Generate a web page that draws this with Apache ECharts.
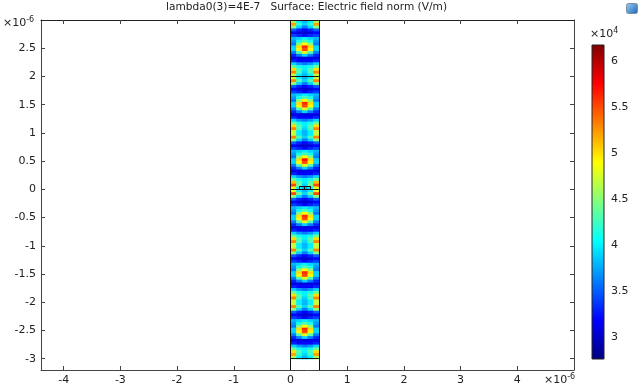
<!DOCTYPE html>
<html><head><meta charset="utf-8">
<script src="https://cdn.jsdelivr.net/npm/echarts@6/dist/echarts.min.js"></script>
<style>html,body{margin:0;padding:0;background:#fff}#c{width:642px;height:391px}</style>
</head><body><div id="c"></div>
<script>
const titleText = 'lambda0(3)=4E-7   Surface: Electric field norm (V/m)';
const xRange = [-4.4, 5.0];
const yRange = [-3.2, 3.0];
const xTicks = [-4, -3, -2, -1, 0, 1, 2, 3, 4];
const yTicks = [-3, -2.5, -2, -1.5, -1, -0.5, 0, 0.5, 1, 1.5, 2, 2.5];
const cbTicks = [3, 3.5, 4, 4.5, 5, 5.5, 6];
const cbRange = [2.76, 6.17];
const jet = ['#00007F','#0000FF','#007FFF','#00FFFF','#7FFF7F','#FFFF00','#FF7F00','#FF0000','#7F0000'];
// field grid: column centres (x, µm) and rows from y=3 downward, 0.05 µm per row
const colX = [0.05, 0.15, 0.25, 0.35, 0.45];
const fieldTop = 3.0, fieldDx = 0.1, fieldDy = 0.05;
// electric field norm, ×10^4 V/m, read row by row from top (y=3) to bottom (y=-3)
const fieldE = [
 [4.6,4.0,3.8,4.0,4.6],[5.2,4.2,3.9,4.2,5.2],[4.5,3.9,3.6,3.9,4.5],[3.5,3.3,3.2,3.3,3.5],[3.2,3.1,3.0,3.1,3.2],
 [3.4,3.3,3.2,3.3,3.4],[3.8,3.9,4.0,3.9,3.8],[3.7,4.1,4.3,4.1,3.7],[3.6,4.5,4.9,4.5,3.6],[3.9,5.0,5.6,5.0,3.9],
 [3.9,4.9,5.5,4.9,3.9],[3.6,4.3,4.8,4.3,3.6],[3.3,3.6,3.9,3.6,3.3],[3.1,3.1,3.1,3.1,3.1],[3.3,3.2,3.2,3.2,3.3],
 [3.9,3.7,3.6,3.7,3.9],[4.4,4.1,4.0,4.1,4.4],[5.0,4.3,4.0,4.3,5.0],[5.3,4.3,3.9,4.3,5.3],[4.7,4.0,3.8,4.0,4.7],
 [4.7,4.0,3.8,4.0,4.7],[5.3,4.3,3.9,4.3,5.3],[4.5,3.9,3.6,3.9,4.5],[3.5,3.3,3.2,3.3,3.5],[3.2,3.1,3.0,3.1,3.2],
 [3.4,3.3,3.2,3.3,3.4],[3.8,3.9,4.0,3.9,3.8],[3.7,4.1,4.3,4.1,3.7],[3.6,4.5,4.9,4.5,3.6],[3.9,5.0,5.6,5.0,3.9],
 [3.9,4.9,5.5,4.9,3.9],[3.6,4.3,4.8,4.3,3.6],[3.3,3.6,3.9,3.6,3.3],[3.1,3.1,3.1,3.1,3.1],[3.3,3.2,3.2,3.2,3.3],
 [3.9,3.7,3.6,3.7,3.9],[4.4,4.1,4.0,4.1,4.4],[5.0,4.3,4.0,4.3,5.0],[5.3,4.3,3.9,4.3,5.3],[4.7,4.0,3.8,4.0,4.7],
 [4.7,4.0,3.8,4.0,4.7],[5.3,4.3,3.9,4.3,5.3],[4.5,3.9,3.6,3.9,4.5],[3.5,3.3,3.2,3.3,3.5],[3.2,3.1,3.0,3.1,3.2],
 [3.4,3.3,3.2,3.3,3.4],[3.8,3.9,4.0,3.9,3.8],[3.7,4.1,4.3,4.1,3.7],[3.6,4.5,4.9,4.5,3.6],[3.9,5.0,5.7,5.0,3.9],
 [3.9,4.9,5.5,4.9,3.9],[3.6,4.3,4.8,4.3,3.6],[3.3,3.6,3.9,3.6,3.3],[3.1,3.1,3.1,3.1,3.1],[3.3,3.2,3.2,3.2,3.3],
 [3.9,3.7,3.6,3.7,3.9],[4.4,4.1,4.0,4.1,4.4],[5.1,4.3,4.0,4.3,5.1],[5.5,4.4,3.9,4.4,5.5],[4.8,4.0,3.8,4.0,4.8],
 [4.8,4.0,3.8,4.0,4.8],[5.5,4.4,3.9,4.4,5.5],[4.5,3.9,3.6,3.9,4.5],[3.5,3.3,3.2,3.3,3.5],[3.2,3.1,3.0,3.1,3.2],
 [3.4,3.3,3.2,3.3,3.4],[3.8,3.9,4.0,3.9,3.8],[3.7,4.1,4.3,4.1,3.7],[3.6,4.5,4.9,4.5,3.6],[3.9,5.0,5.6,5.0,3.9],
 [3.9,4.9,5.5,4.9,3.9],[3.6,4.3,4.8,4.3,3.6],[3.3,3.6,3.9,3.6,3.3],[3.1,3.1,3.1,3.1,3.1],[3.3,3.2,3.2,3.2,3.3],
 [3.9,3.7,3.6,3.7,3.9],[4.4,4.1,4.0,4.1,4.4],[5.0,4.3,4.0,4.3,5.0],[5.3,4.3,3.9,4.3,5.3],[4.7,4.0,3.8,4.0,4.7],
 [4.7,4.0,3.8,4.0,4.7],[5.3,4.3,3.9,4.3,5.3],[4.5,3.9,3.6,3.9,4.5],[3.5,3.3,3.2,3.3,3.5],[3.2,3.1,3.0,3.1,3.2],
 [3.4,3.3,3.2,3.3,3.4],[3.8,3.9,4.0,3.9,3.8],[3.7,4.1,4.3,4.1,3.7],[3.6,4.5,4.9,4.5,3.6],[3.9,5.0,5.6,5.0,3.9],
 [3.9,4.9,5.5,4.9,3.9],[3.6,4.3,4.8,4.3,3.6],[3.3,3.6,3.9,3.6,3.3],[3.1,3.1,3.1,3.1,3.1],[3.3,3.2,3.2,3.2,3.3],
 [3.9,3.7,3.6,3.7,3.9],[4.4,4.1,4.0,4.1,4.4],[5.0,4.3,4.0,4.3,5.0],[5.3,4.3,3.9,4.3,5.3],[4.7,4.0,3.8,4.0,4.7],
 [4.7,4.0,3.8,4.0,4.7],[5.3,4.3,3.9,4.3,5.3],[4.5,3.9,3.6,3.9,4.5],[3.5,3.3,3.2,3.3,3.5],[3.2,3.1,3.0,3.1,3.2],
 [3.4,3.3,3.2,3.3,3.4],[3.8,3.9,4.0,3.9,3.8],[3.7,4.1,4.3,4.1,3.7],[3.6,4.5,4.9,4.5,3.6],[3.9,5.0,5.6,5.0,3.9],
 [3.9,4.9,5.5,4.9,3.9],[3.6,4.3,4.8,4.3,3.6],[3.3,3.6,3.9,3.6,3.3],[3.1,3.1,3.1,3.1,3.1],[3.3,3.2,3.2,3.2,3.3],
 [3.9,3.7,3.6,3.7,3.9],[4.4,4.1,4.0,4.1,4.4],[5.0,4.3,4.0,4.3,5.0],[5.2,4.2,3.9,4.2,5.2],[4.6,4.0,3.8,4.0,4.6]
];
// geometry boundaries (µm)
const boundaries = [
 [[0,-3.2],[0,3]], [[0.5,-3.2],[0.5,3]],
 [[0,3],[0.5,3]], [[0,2],[0.5,2]], [[0,0],[0.5,0]], [[0,-3],[0.5,-3]],
 [[0.15,0],[0.15,0.06]], [[0.15,0.06],[0.35,0.06]], [[0.35,0.06],[0.35,0]], [[0.25,0],[0.25,0.06]]
];

const FONT = 'DejaVu Sans';
const cells = [];
fieldE.forEach((row, i) => {
  const y = fieldTop - fieldDy * (i + 0.5);
  row.forEach((v, j) => cells.push([colX[j], y, v]));
});

const chart = echarts.init(document.getElementById('c'), null, {renderer: 'canvas'});
const axisCol = '#444';
const labelStyle = {color: '#222', fontSize: 11, fontFamily: FONT};
const sup = {fontSize: 8, fontFamily: FONT, color: '#222', verticalAlign: 'top', padding: [0,0,6,0]};

chart.setOption({
  backgroundColor: '#fff',
  animation: false,
  grid: [
    {left: 41, right: 68, top: 20, bottom: 21, show: false},
    {left: 592, width: 12, top: 45, height: 314, show: false}
  ],
  xAxis: [
    {type: 'value', gridIndex: 0, min: xRange[0], max: xRange[1], position: 'bottom',
     axisLine: {onZero: false, lineStyle: {color: axisCol}}, splitLine: {show: false},
     axisTick: {inside: true, length: 4, customValues: xTicks, lineStyle: {color: axisCol}},
     axisLabel: Object.assign({customValues: xTicks, margin: 5, formatter: v => String(v)}, labelStyle)},
    {type: 'value', gridIndex: 0, min: xRange[0], max: xRange[1], position: 'top',
     axisLine: {onZero: false, lineStyle: {color: '#222'}}, splitLine: {show: false},
     axisTick: {inside: true, length: 4, customValues: xTicks, lineStyle: {color: axisCol}},
     axisLabel: {show: false}},
    {type: 'value', gridIndex: 1, min: 0, max: 1, show: false}
  ],
  yAxis: [
    {type: 'value', gridIndex: 0, min: yRange[0], max: yRange[1], position: 'left',
     axisLine: {onZero: false, lineStyle: {color: axisCol}}, splitLine: {show: false},
     axisTick: {inside: true, length: 4, customValues: yTicks, lineStyle: {color: axisCol}},
     axisLabel: Object.assign({customValues: yTicks, margin: 5, formatter: v => String(v)}, labelStyle)},
    {type: 'value', gridIndex: 0, min: yRange[0], max: yRange[1], position: 'right',
     axisLine: {onZero: false, lineStyle: {color: axisCol}}, splitLine: {show: false},
     axisTick: {inside: true, length: 4, customValues: yTicks, lineStyle: {color: axisCol}},
     axisLabel: {show: false}},
    {type: 'value', gridIndex: 1, min: cbRange[0], max: cbRange[1], position: 'right',
     axisLine: {show: false}, splitLine: {show: false}, axisTick: {show: false},
     axisLabel: Object.assign({customValues: cbTicks, margin: 7, formatter: v => String(v)}, labelStyle)}
  ],
  visualMap: {
    type: 'continuous', show: false, seriesIndex: 0, dimension: 2,
    min: cbRange[0], max: cbRange[1], inRange: {color: jet}
  },
  series: [
    {type: 'custom', xAxisIndex: 0, yAxisIndex: 0, data: cells, encode: {x: 0, y: 1},
     renderItem: function (params, api) {
       const x = api.value(0), y = api.value(1);
       const p0 = api.coord([x - fieldDx / 2, y + fieldDy / 2]);
       const p1 = api.coord([x + fieldDx / 2, y - fieldDy / 2]);
       return {type: 'rect', shape: {x: p0[0], y: p0[1], width: p1[0] - p0[0] + 0.6, height: p1[1] - p0[1] + 0.6},
               style: {fill: api.visual('color')}};
     }},
    {type: 'lines', coordinateSystem: 'cartesian2d', xAxisIndex: 0, yAxisIndex: 0, polyline: false,
     silent: true, lineStyle: {color: '#111', width: 1, opacity: 1},
     data: boundaries.map(c => ({coords: c}))},
    {type: 'custom', xAxisIndex: 2, yAxisIndex: 2, data: [[0, cbRange[0], 1, cbRange[1]]], encode: {x: [0, 2], y: [1, 3]},
     renderItem: function (params, api) {
       const a = api.coord([api.value(0), api.value(1)]);
       const b = api.coord([api.value(2), api.value(3)]);
       const stops = jet.map((c, i) => ({offset: i / (jet.length - 1), color: c}));
       return {type: 'rect', shape: {x: a[0], y: b[1], width: b[0] - a[0], height: a[1] - b[1]},
               style: {fill: new echarts.graphic.LinearGradient(0, 1, 0, 0, stops), stroke: '#222', lineWidth: 1}};
     }}
  ],
  graphic: [
    {type: 'text', left: 166, top: 2, style: {text: titleText, fill: '#222', font: '10.6px "DejaVu Sans"'}},
    {type: 'text', left: 3, top: 16, style: {text: '×10{s|-6}', fill: '#222', font: '11px "DejaVu Sans"', rich: {s: sup}}},
    {type: 'text', left: 544, top: 373, style: {text: '×10{s|-6}', fill: '#222', font: '11px "DejaVu Sans"', rich: {s: sup}}},
    {type: 'text', left: 590, top: 27, style: {text: '×10{s|4}', fill: '#222', font: '11px "DejaVu Sans"', rich: {s: sup}}},
    {type: 'rect', left: 626, top: 3, shape: {width: 11, height: 10, r: 2},
     style: {fill: new echarts.graphic.LinearGradient(0, 0, 1, 1, [{offset: 0, color: '#9fd3f5'}, {offset: 1, color: '#1a5fb4'}]), stroke: '#7a8da0'}}
  ]
});
</script></body></html>
